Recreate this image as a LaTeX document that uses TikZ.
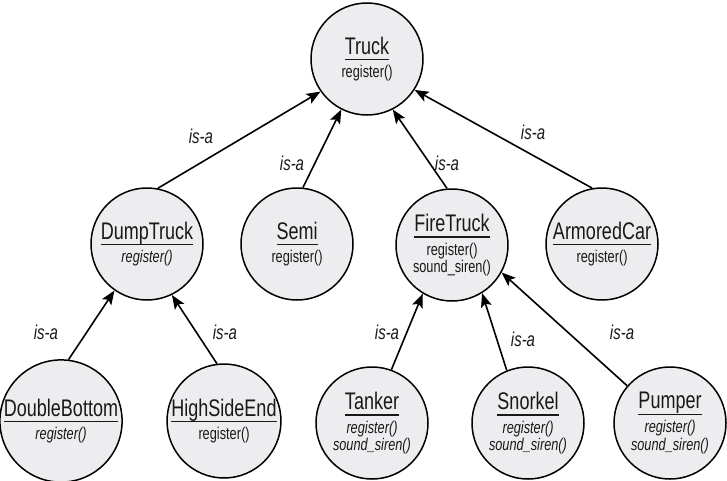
\documentclass[tikz,border=0pt]{standalone}
\usepackage{fontspec}
\setmainfont[FakeStretch=0.75]{Liberation Sans}
\usetikzlibrary{arrows.meta}

\definecolor{circlefill}{RGB}{237,237,240}
\definecolor{ink}{RGB}{25,25,25}

% class name with a rule of the same width set a fixed distance below its baseline
\newcommand\clsname[1]{{\fontsize{24}{26}\selectfont\setbox0\hbox{#1}\dp0=0pt
  \vtop{\copy0\kern5pt\hrule width\wd0 height1.3pt}}}

\begin{document}
\begin{tikzpicture}[x=1pt,y=-1pt,
  cls/.style={circle,draw=black,line width=1.5pt,fill=circlefill,
    minimum size=112pt,inner sep=0pt,align=center,text=ink,
    font=\fontsize{17}{17.5}\selectfont},
  isa/.style={line width=1.6pt,draw=black,
    -{Stealth[length=14pt,width=11pt,inset=3pt]}},
  lbl/.style={font=\fontsize{20}{22}\selectfont\itshape,text=ink,inner sep=1pt}]
\useasboundingbox (0,0) rectangle (727,480);

% classes
\node[cls] (truck) at (367,59) {\clsname{Truck}\\[4pt]register()};
\node[cls] (dump)  at (147,244) {\clsname{DumpTruck}\\[4pt]\textit{register()}};
\node[cls] (semi)  at (297,244) {\clsname{Semi}\\[4pt]register()};
\node[cls] (fire)  at (452,245) {\clsname{FireTruck}\\[4pt]register()\\sound\_siren()};
\node[cls] (armor) at (602,244) {\clsname{ArmoredCar}\\[4pt]register()};
\node[cls] (dbl)   at (61,421)  {\clsname{DoubleBottom}\\[4pt]\textit{register()}};
\node[cls] (high)  at (224,421) {\clsname{HighSideEnd}\\[4pt]register()};
\node[cls] (tank)  at (372,423) {\clsname{Tanker}\\[4pt]\textit{register()}\\\textit{sound\_siren()}};
\node[cls] (snork) at (528,423) {\clsname{Snorkel}\\[4pt]\textit{register()}\\\textit{sound\_siren()}};
\node[cls] (pump)  at (670,423) {\clsname{Pumper}\\[4pt]\textit{register()}\\\textit{sound\_siren()}};

% inheritance connectors
\draw[isa] (dump.79)   -- (truck.215);
\draw[isa] (semi.84)   -- (truck.243);
\draw[isa] (fire.95)   -- (truck.297);
\draw[isa] (armor.100) -- (truck.327);
\draw[isa] (dbl.83)    -- (dump.235);
\draw[isa] (high.97)   -- (dump.296);
\draw[isa] (tank.70)   -- (fire.239);
\draw[isa] (snork.112) -- (fire.302);
\draw[isa] (pump.139)  -- (fire.331);

% relation labels
\node[lbl] (l1) at (201,136) {is-a};
\node[lbl] (l2) at (292,163) {is-a};
\node[lbl] (l3) at (447,163) {is-a};
\node[lbl] (l4) at (533,132) {is-a};
\node[lbl] (l5) at (46,332)  {is-a};
\node[lbl] (l6) at (225,332) {is-a};
\node[lbl] (l7) at (387,332) {is-a};
\node[lbl] (l8) at (523,339) {is-a};
\node[lbl] (l9) at (622,332) {is-a};
\end{tikzpicture}
\end{document}
